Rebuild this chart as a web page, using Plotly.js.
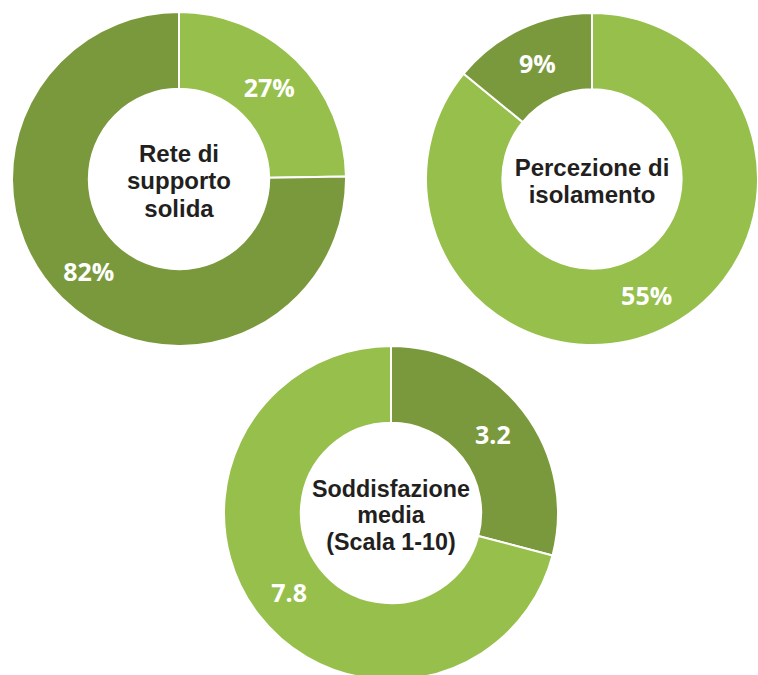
<!DOCTYPE html>
<html>
<head>
<meta charset="utf-8">
<script src="https://cdn.plot.ly/plotly-3.0.1.min.js"></script>
<style>
html,body{margin:0;padding:0;overflow:hidden;background:#fff;}
#chart{width:760px;height:682px;}
</style>
</head>
<body>
<div id="chart"></div>
<script>
// ---- data ----
const supportLabels = ['Sì', 'No'];
const supportValues = [27, 82];
const isolationLabels = ['Sì', 'No'];
const isolationValues = [55, 9];
const satisfactionLabels = ['Punteggio basso', 'Punteggio alto'];
const satisfactionValues = [3.2, 7.8];
const centerTitles = ['Rete di<br>supporto<br>solida', 'Percezione di<br>isolamento', 'Soddisfazione<br>media<br>(Scala 1-10)'];

// ---- style ----
const LIGHT = '#97BF4B';
const DARK = '#7A993C';
const W = 760, H = 682;
function dom(cx, cy, r) {
  return {x: [(cx - r) / W, Math.min(1, (cx + r) / W)], y: [Math.max(0, 1 - (cy + r) / H), Math.min(1, 1 - (cy - r) / H)]};
}
const labelFont = {family: 'Open Sans, sans-serif', size: 25, color: '#ffffff', weight: 700};
const titleFont = {family: 'Liberation Sans, Arial, sans-serif', size: 24, color: '#231F20', weight: 700};

function donut(labels, values, colors, suffix, title, domain) {
  return {
    type: 'pie',
    labels: labels,
    values: values,
    hole: 0.54,
    sort: false,
    direction: 'clockwise',
    rotation: 0,
    domain: domain,
    marker: {colors: colors, line: {color: '#ffffff', width: 2}},
    textposition: 'inside',
    insidetextorientation: 'horizontal',
    texttemplate: '%{value}' + suffix,
    textfont: labelFont,
    hoverinfo: 'label+value',
    showlegend: false,
    title: {text: title, position: 'middle center', font: titleFont}
  };
}

const data = [
  donut(supportLabels, supportValues, [LIGHT, DARK], '%', centerTitles[0], dom(179, 179, 167)),
  donut(isolationLabels, isolationValues, [LIGHT, DARK], '%', centerTitles[1], dom(592, 179, 166)),
  donut(satisfactionLabels, satisfactionValues, [DARK, LIGHT], '', centerTitles[2], dom(391, 513, 167))
];

const layout = {
  width: W,
  height: H,
  margin: {l: 0, r: 0, t: 0, b: 0},
  paper_bgcolor: '#ffffff',
  showlegend: false
};

Plotly.newPlot('chart', data, layout, {displayModeBar: false, staticPlot: true}).then(function () {
  // tighter line spacing for the centre titles, keeping them centred
  const ratio = 1.13 / 1.3;
  document.querySelectorAll('#chart g.titletext').forEach(function (g) {
    const txt = g.querySelector('text');
    if (!txt) return;
    const b0 = txt.getBoundingClientRect();
    txt.querySelectorAll('tspan.line').forEach(function (t) {
      const dy = t.getAttribute('dy');
      if (dy && /em$/.test(dy)) {
        const v = parseFloat(dy);
        t.setAttribute('dy', (v * ratio) + 'em');
      }
    });
    const b1 = txt.getBoundingClientRect();
    const shift = (b0.top + b0.height / 2) - (b1.top + b1.height / 2);
    const prev = g.getAttribute('transform') || '';
    g.setAttribute('transform', prev + ' translate(0,' + shift + ')');
  });
});
</script>
</body>
</html>
